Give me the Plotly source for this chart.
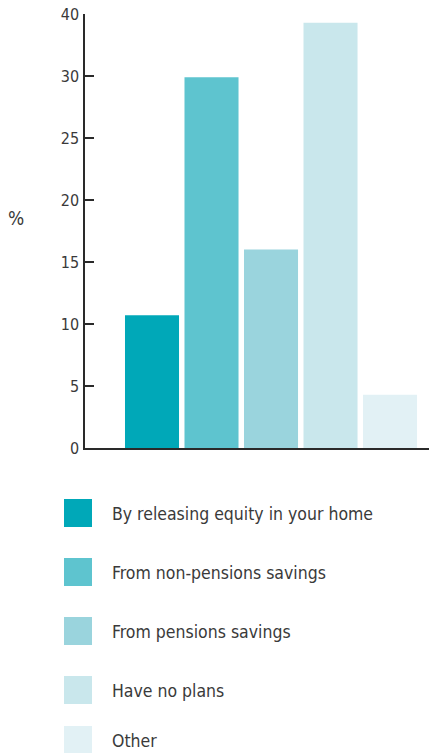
import plotly.graph_objects as go

categories = ["By releasing equity in your home", "From non-pensions savings",
              "From pensions savings", "Have no plans", "Other"]
values = [10.7, 29.9, 16.0, 34.3, 4.3]
colors = ["#00A8B8", "#5EC4CF", "#9AD4DD", "#C9E7EC", "#E2F1F5"]
tick_vals = [0, 5, 10, 15, 20, 25, 30, 35]
tick_text = ["0", "5", "10", "15", "20", "25", "30", "40"]

FONT = "Liberation Sans Narrow, Arial Narrow, DejaVu Sans Condensed, sans-serif"
W, H = 429, 753
L, R, T, B = 85, 0, 14, 305
PW, PH = W - L - R, H - T - B

def px_x(px):
    return (px - L) / PW

def px_y(py):
    return (H - B - py) / PH

fig = go.Figure()
fig.add_trace(go.Bar(
    x=categories, y=values, marker=dict(color=colors, line=dict(width=0)),
    showlegend=False, hoverinfo="skip",
))

shapes = []
annotations = []
# custom legend (swatch top, text centre)
legend_tops = [499, 558, 617, 676, 726]
for cat, col, top in zip(categories, colors, legend_tops):
    shapes.append(dict(type="rect", xref="paper", yref="paper",
                       x0=px_x(64), x1=px_x(92), y0=px_y(min(top + 28, H)), y1=px_y(top),
                       fillcolor=col, line=dict(width=0)))
    annotations.append(dict(text=cat, xref="paper", yref="paper", x=px_x(110),
                            y=px_y(top + 15), xanchor="left", yanchor="middle",
                            showarrow=False, font=dict(family=FONT, size=17.5, color="#3a3a3a")))

annotations.append(dict(text="%", xref="paper", yref="paper", x=px_x(16), y=px_y(218),
                        xanchor="center", yanchor="middle", showarrow=False,
                        font=dict(family=FONT, size=19, color="#3a3a3a")))

fig.update_layout(
    width=W, height=H, margin=dict(l=L, r=R, t=T, b=B),
    paper_bgcolor="white", plot_bgcolor="white",
    bargap=0.092,
    shapes=shapes, annotations=annotations,
    xaxis=dict(range=[-1.126, 4.655], showticklabels=False, showgrid=False,
               zeroline=False, showline=True, linecolor="#2a2a2a", linewidth=2,
               ticks="", fixedrange=True),
    yaxis=dict(range=[0, 35], tickvals=tick_vals, ticktext=tick_text,
               showgrid=False, zeroline=False, showline=True, linecolor="#2a2a2a",
               linewidth=1.5, ticks="inside", ticklen=9, tickwidth=1.5, tickcolor="#2a2a2a",
               ticklabelstandoff=1,
               tickfont=dict(family=FONT, size=16, color="#3a3a3a")),
)

fig.write_html("out.html")
